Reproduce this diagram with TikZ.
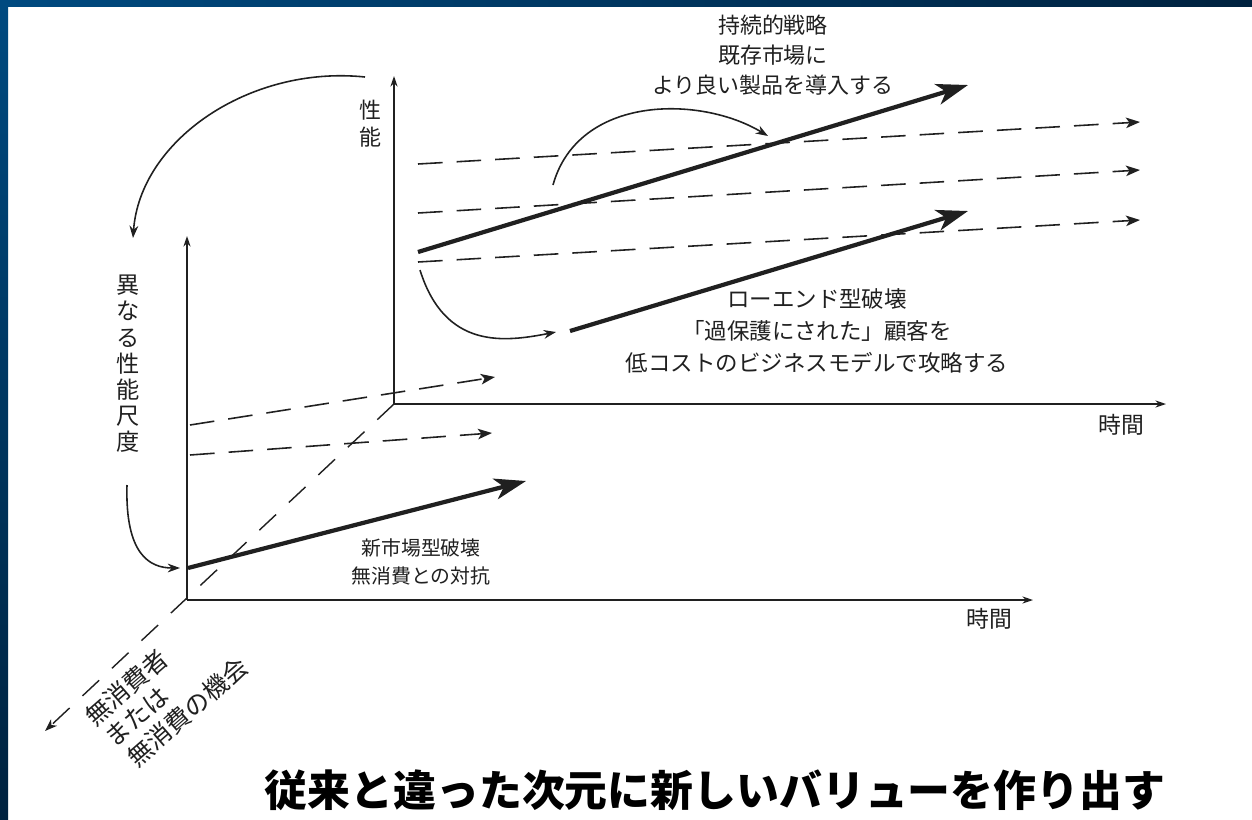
\documentclass[tikz,border=0pt]{standalone}
\usepackage{fontspec}
\setmainfont{Noto Sans CJK JP}
\usetikzlibrary{arrows.meta}
\definecolor{ink}{HTML}{202020}
\definecolor{frameA}{HTML}{004A80}
\definecolor{frameB}{HTML}{00223F}
\tikzset{
  axisline/.style={draw=ink, line width=0.8pt, -{Stealth[length=6pt,width=4pt]}},
  bigarrow/.style={draw=ink, line width=2.4pt, -{Stealth[length=18pt,width=12pt,inset=5pt]}},
  dashline/.style={draw=ink, line width=0.9pt, dash pattern=on 14pt off 8pt, -{Stealth[length=8pt,width=6pt,inset=2pt]}},
  diagline/.style={draw=ink, line width=0.8pt, dash pattern=on 13pt off 10pt, -{Stealth[length=7pt,width=5pt,inset=2pt]}},
  curvearrow/.style={draw=ink, line width=0.9pt, -{Stealth[length=7pt,width=5pt]}},
  lbl/.style={inner sep=0pt, text=ink, align=center},
  diaglbl/.style={inner sep=0pt, text=ink, anchor=west, rotate=41, font=\fontsize{14.2pt}{14.2pt}\selectfont},
}
\begin{document}
\begin{tikzpicture}[x=0.02cm, y=-0.02cm]
\useasboundingbox (0,0) rectangle (1252,819);
\fill[white] (0,0) rectangle (1252,819);
\shade[left color=frameA, right color=frameB] (0,0) rectangle (1252,6);
\shade[top color=frameA, bottom color=frameB] (0,0) rectangle (8,819);

% coordinates
\coordinate (O1) at (394,404);
\coordinate (Y1) at (394,76);
\coordinate (X1) at (1166,404);
\coordinate (O2) at (187,600);
\coordinate (Y2) at (187,236);
\coordinate (X2) at (1033,600);
\coordinate (D) at (45,731);

\coordinate (d1s) at (418,164); \coordinate (d1e) at (1140,122);
\coordinate (d2s) at (418,213); \coordinate (d2e) at (1140,170);
\coordinate (d3s) at (418,262); \coordinate (d3e) at (1140,220);
\coordinate (t1s) at (418,252); \coordinate (t1e) at (968,85);
\coordinate (t2s) at (570,331); \coordinate (t2e) at (968,211);
\coordinate (fas) at (190,425); \coordinate (fae) at (495,377);
\coordinate (fbs) at (190,455); \coordinate (fbe) at (492,433);
\coordinate (t3s) at (188,568); \coordinate (t3e) at (526,481);

\coordinate (c1s) at (365,77); \coordinate (c1e) at (133,238);
\coordinate (c2s) at (127,485); \coordinate (c2e) at (180,568);
\coordinate (c3s) at (420,270); \coordinate (c3e) at (556,332);
\coordinate (c4s) at (553,185); \coordinate (c4e) at (768,136);

% axes
\draw[axisline] (O1) -- (Y1);
\draw[axisline] (O1) -- (X1);
\draw[axisline] (O2) -- (Y2);
\draw[axisline] (O2) -- (X2);
\draw[diagline] (O1) -- (D);

% dashed trends
\draw[dashline] (d1s) -- (d1e);
\draw[dashline] (d2s) -- (d2e);
\draw[dashline] (d3s) -- (d3e);
\draw[dashline] (fas) -- (fae);
\draw[dashline] (fbs) -- (fbe);

% thick arrows
\draw[bigarrow] (t1s) -- (t1e);
\draw[bigarrow] (t2s) -- (t2e);
\draw[bigarrow] (t3s) -- (t3e);

% curved arrows
\draw[curvearrow] (c1s) .. controls (250,65) and (140,140) .. (c1e);
\draw[curvearrow] (c2s) .. controls (125,555) and (150,568) .. (c2e);
\draw[curvearrow] (c3s) .. controls (445,350) and (505,342) .. (c3e);
\draw[curvearrow] (c4s) .. controls (578,95) and (700,95) .. (c4e);

% labels
\node[lbl, font=\fontsize{12.5pt}{17pt}\selectfont] (sus) at (773,55)
  {持続的戦略\\既存市場に\\より良い製品を導入する};
\node[lbl, font=\fontsize{12.8pt}{18.4pt}\selectfont] (low) at (817,331)
  {ローエンド型破壊\\「過保護にされた」顧客を\\低コストのビジネスモデルで攻略する};
\node[lbl, font=\fontsize{11.3pt}{15.9pt}\selectfont] (new) at (421,562)
  {新市場型破壊\\無消費との対抗};
\node[lbl, font=\fontsize{13pt}{13pt}\selectfont] (time1) at (1121,425) {時間};
\node[lbl, font=\fontsize{13pt}{13pt}\selectfont] (time2) at (989,619) {時間};
\node[lbl, font=\fontsize{12.5pt}{15.3pt}\selectfont] (perf) at (370,123.5) {性\\能};
\node[lbl, font=\fontsize{13.2pt}{14.9pt}\selectfont] (diff) at (128,364)
  {異\\な\\る\\性\\能\\尺\\度};
\node[diaglbl] (nc1) at (88.6,720.2) {無消費者};
\node[diaglbl] (nc2) at (108.6,741.2) {または};
\node[diaglbl] (nc3) at (130.6,761.2) {無消費の機会};
\node[inner sep=0pt, text=black, font=\fontsize{24.4pt}{24.4pt}\selectfont\bfseries] (title) at (715,790)
  {従来と違った次元に新しいバリューを作り出す};
\end{tikzpicture}
\end{document}
